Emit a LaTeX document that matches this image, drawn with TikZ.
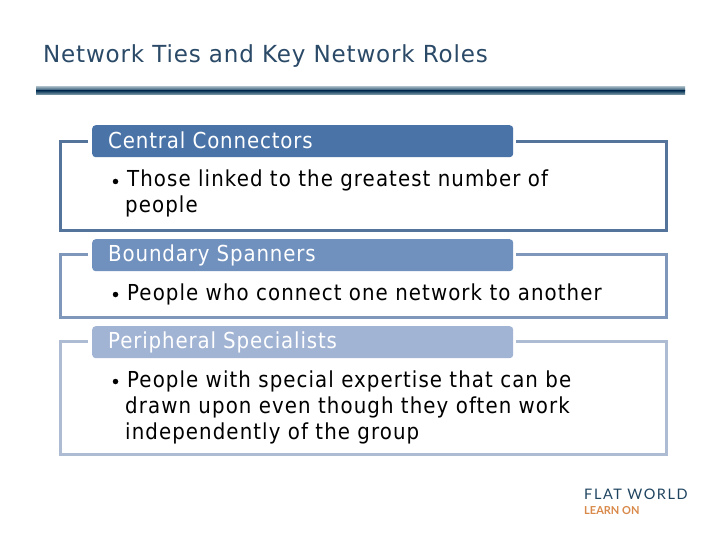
\documentclass[tikz,border=0pt]{standalone}
\usepackage{fontspec}
\setmainfont{DejaVu Sans}
\newfontfamily\bodyfont[FakeStretch=0.9,LetterSpace=4.9]{DejaVu Sans}
\newfontfamily\headfont[FakeStretch=0.9,LetterSpace=3.9]{DejaVu Sans}
\newfontfamily\titlefont[FakeStretch=0.98,LetterSpace=3.5]{DejaVu Sans}
\newfontfamily\logofont[LetterSpace=11]{Lato}
\newfontfamily\logofontb{Lato}
\definecolor{frameA}{HTML}{55749C}
\definecolor{headA}{HTML}{4A73A8}
\definecolor{frameB}{HTML}{7E97BA}
\definecolor{headB}{HTML}{7090BE}
\definecolor{frameC}{HTML}{AEBCD3}
\definecolor{headC}{HTML}{A2B4D4}
\definecolor{titlecol}{HTML}{2B4A68}
\definecolor{ruledark}{HTML}{123F60}
\definecolor{ruleedge}{HTML}{8FA6B4}
\definecolor{logoblue}{HTML}{1F4460}
\definecolor{logoorange}{HTML}{D98A4A}
\tikzset{
  framepath/.style={line width=3pt,line cap=butt,line join=miter},
  headbox/.style={rounded corners=3.5pt,minimum width=421pt,minimum height=32pt,inner sep=0pt,anchor=north west},
  headtext/.style={text=white,inner sep=0pt,anchor=base west,font=\headfont\fontsize{22}{24}\selectfont},
  bodytext/.style={text=black,inner sep=0pt,anchor=base west,align=left,font=\bodyfont\fontsize{22}{26}\selectfont},
  bullet/.style={circle,fill=black,inner sep=0pt,minimum size=5.5pt},
}
\begin{document}
\begin{tikzpicture}[x=1pt,y=-1pt]
\useasboundingbox (0,0) rectangle (720,540);
\fill[white] (0,0) rectangle (720,540);
% title
\node[inner sep=0pt,anchor=base west,text=titlecol,font=\titlefont\fontsize{23.5}{26}\selectfont] (title) at (43,62.5) {Network Ties and Key Network Roles};
% rule
\shade[top color=ruleedge,bottom color=ruledark] (36,87) rectangle (685,91);
\shade[top color=ruledark,bottom color=ruleedge] (36,91) rectangle (685,95);
% block 1
\draw[framepath,frameA] (88,141.5) -- (60,141.5) -- (60,230.5) -- (666,230.5) -- (666,141.5) -- (516,141.5);
\node[headbox,fill=headA] (h1) at (92,125) {};
\node[headtext] (t1) at (108,148.5) {Central Connectors};
\node[bullet] (b1) at (115.5,181.5) {};
\node[bodytext] (x1) at (127,187) {Those linked to the greatest number of};
\node[bodytext] (y1) at (125,213) {people};
% block 2
\draw[framepath,frameB] (88,254.5) -- (60,254.5) -- (60,317.5) -- (666,317.5) -- (666,254.5) -- (516,254.5);
\node[headbox,fill=headB] (h2) at (92,239) {};
\node[headtext] (t2) at (108,261.5) {Boundary Spanners};
\node[bullet] (b2) at (115.5,294.5) {};
\node[bodytext] (x2) at (127,300) {People who connect one network to another};
% block 3
\draw[framepath,frameC] (88,341.5) -- (60,341.5) -- (60,454.5) -- (666,454.5) -- (666,341.5) -- (516,341.5);
\node[headbox,fill=headC] (h3) at (92,326) {};
\node[headtext] (t3) at (108,348.5) {Peripheral Specialists};
\node[bullet] (b3) at (115.5,381.5) {};
\node[bodytext] (x3) at (127,387) {People with special expertise that can be};
\node[bodytext] (y3) at (125,413) {drawn upon even though they often work};
\node[bodytext] (z3) at (125,439) {independently of the group};
% logo
\node[inner sep=0pt,anchor=base west,text=logoblue,font=\logofont\fontsize{14.5}{16}\selectfont] (l1) at (584,499.5) {FLAT WORLD};
\node[inner sep=0pt,anchor=base west,text=logoorange,font=\logofontb\fontsize{11}{12}\bfseries\selectfont] (l2) at (584,514) {LEARN ON};
\end{tikzpicture}
\end{document}
